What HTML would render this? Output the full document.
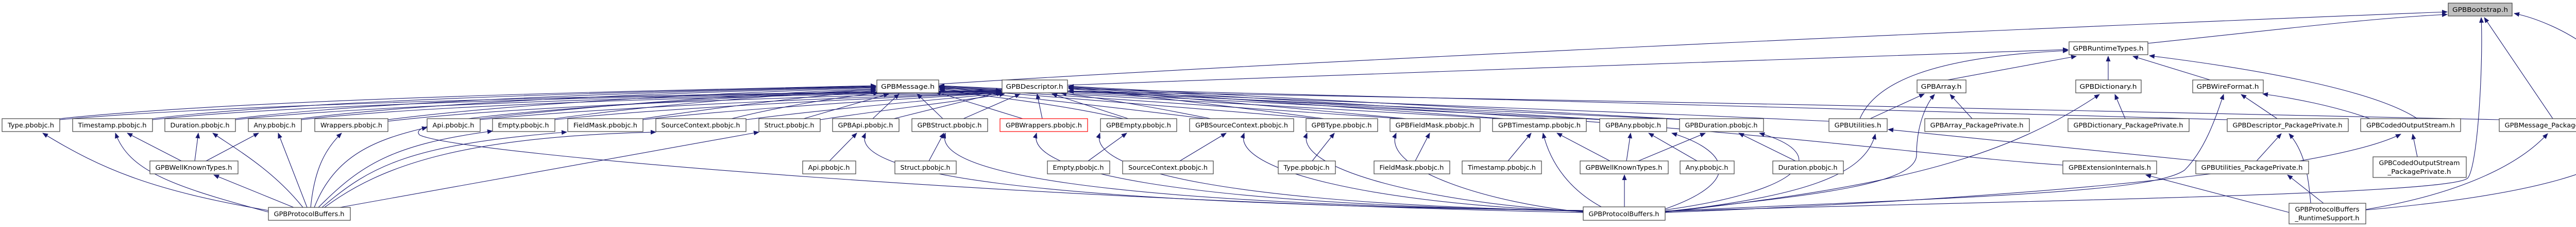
<!DOCTYPE html>
<html><head><meta charset="utf-8"><style>
html,body{margin:0;padding:0;background:#fff;}
svg{display:block;}
text{font-family:"DejaVu Sans","Liberation Sans",sans-serif;font-size:12px;fill:#000;}
.n{fill:#fff;stroke:#404040;stroke-width:1.2;}
.e{fill:none;stroke:#191970;stroke-width:1.1;}
</style></head><body>
<svg width="5118" height="440" viewBox="0 0 5118 440" xmlns="http://www.w3.org/2000/svg">
<defs><marker id="a" markerWidth="11" markerHeight="9" refX="10" refY="4.5" orient="auto" markerUnits="userSpaceOnUse"><path d="M0,0L11,4.5L0,9z" fill="#191970"/></marker></defs>
<g class="e" marker-end="url(#a)">
<!-- Bootstrap -->
<path d="M1822,163 C2500,120 3800,60 4750,23"/>
<path d="M4169,84 C4400,60 4600,35 4750,28"/>
<path d="M4955,230 L4822,34"/>
<path d="M4592,407 C4900,380 5112,330 5112,250 C5112,110 4950,40 4880,26"/>
<path d="M3232,410 C3800,390 4760,380 4790,345 C4810,320 4820,120 4816,34"/>
<!-- RuntimeTypes -->
<path d="M2072,165 C2600,145 3600,110 4014,96"/>
<path d="M3610,230 C3640,160 3750,110 4014,98"/>
<path d="M3780,155 L4030,109"/>
<path d="M4092,155 L4092,109"/>
<path d="M4290,155 L4140,109"/>
<path d="M4692,230 C4600,170 4350,130 4172,108"/>
<!-- Array -->
<path d="M3630,230 L3735,182"/>
<path d="M3828,230 L3785,183"/>
<path d="M3232,410 C3500,380 3720,360 3720,300 C3720,240 3740,200 3755,183"/>
<!-- Dictionary -->
<path d="M4125,230 L4105,183"/>
<path d="M3232,411 C3700,360 3900,300 4075,183"/>
<!-- WireFormat -->
<path d="M4420,230 L4350,183"/>
<path d="M4600,230 C4530,205 4450,190 4392,182"/>
<path d="M3232,409 C3900,380 4180,370 4240,330 C4280,290 4300,230 4316,183"/>
<!-- Descriptor_PP -->
<path d="M4380,312 L4428,259"/>
<path d="M4485,394 C4480,330 4470,290 4443,259"/>
<path d="M4323,232 C3800,215 2800,190 2074,172"/>
<!-- CodedOutputStream -->
<path d="M4692,304 L4683,260"/>
<path d="M3232,412 C3800,390 4500,340 4660,260"/>
<!-- Message_PP -->
<path d="M4592,406 C4750,380 4880,330 4945,259"/>
<path d="M4851,232 C4000,210 2500,185 1824,172"/>
<!-- Utilities -->
<path d="M4267,312 L3665,251"/>
<path d="M3232,411 C3500,380 3620,340 3640,260"/>
<path d="M3550,235 C3000,210 2400,185 2074,176"/>
<!-- ExtensionInternals -->
<path d="M4444,412 L4165,339"/>
<path d="M4004,320 C3700,300 3300,230 2074,177"/>
<path d="M4510,394 L4440,339"/>
<!-- right GPB pbobjc to Message / Descriptor -->
<path d="M1694,230 L1745,182"/>
<path d="M1735,230 L1945,178"/>
<path d="M1830,230 L1780,182"/>
<path d="M1870,230 L1980,182"/>
<path d="M1985,230 L1816,178"/>
<path d="M2023,230 L2013,182"/>
<path d="M2180,230 C2050,200 1900,185 1823,174"/>
<path d="M2190,230 L2042,182"/>
<path d="M2340,230 C2100,200 1900,180 1823,172"/>
<path d="M2350,230 C2200,200 2100,185 2060,181"/>
<path d="M2560,230 C2200,200 1950,180 1823,170"/>
<path d="M2570,230 C2300,195 2150,178 2074,172"/>
<path d="M2720,230 C2300,200 1950,178 1823,169"/>
<path d="M2730,230 C2350,195 2150,176 2074,170"/>
<path d="M2910,230 C2400,200 1950,176 1823,168"/>
<path d="M2920,230 C2450,195 2150,174 2074,169"/>
<path d="M3110,232 C2500,200 1950,174 1823,167"/>
<path d="M3120,232 C2500,196 2150,172 2074,168"/>
<path d="M3270,232 C2600,200 1950,172 1823,166"/>
<path d="M3280,232 C2600,196 2150,170 2074,167"/>
<!-- left pbobjc to Message / Descriptor -->
<path d="M116,230 C500,190 1300,175 1700,166"/>
<path d="M116,232 C520,195 1500,180 1943,175"/>
<path d="M296,230 C600,192 1300,176 1700,167"/>
<path d="M296,232 C620,196 1500,181 1943,176"/>
<path d="M457,230 C750,194 1300,177 1700,168"/>
<path d="M457,232 C770,198 1500,182 1943,177"/>
<path d="M585,230 C850,196 1350,178 1700,169"/>
<path d="M585,232 C870,199 1550,183 1943,178"/>
<path d="M753,232 C1000,200 1400,180 1700,170"/>
<path d="M753,235 C1020,203 1600,186 1943,179"/>
<path d="M932,230 C1150,205 1450,182 1700,172"/>
<path d="M932,232 C1170,208 1650,188 1943,180"/>
<path d="M1077,230 C1250,206 1500,184 1700,173"/>
<path d="M1077,232 C1270,210 1700,190 1943,180"/>
<path d="M1248,230 C1400,208 1550,188 1700,176"/>
<path d="M1248,232 C1420,212 1750,192 1943,180"/>
<path d="M1420,230 C1500,210 1600,192 1705,180"/>
<path d="M1448,232 C1600,212 1800,195 1945,181"/>
<path d="M1560,230 L1725,182"/>
<path d="M1592,232 C1700,215 1850,198 1950,182"/>
<path d="M3073,412 C2000,390 900,300 815,262 C790,240 900,215 1700,175"/>
<!-- PB1 edges -->
<path d="M521,408 C300,370 200,330 83,258"/>
<path d="M521,411 C330,360 250,330 224,258"/>
<path d="M352,312 L247,258"/>
<path d="M378,312 L385,258"/>
<path d="M400,312 L502,258"/>
<path d="M570,402 L415,339"/>
<path d="M588,402 C530,330 460,290 413,258"/>
<path d="M596,402 L540,258"/>
<path d="M603,402 C610,330 630,290 663,258"/>
<path d="M610,402 C650,300 730,270 829,247"/>
<path d="M618,402 C700,320 760,280 956,254"/>
<path d="M625,402 C720,320 800,280 1100,256"/>
<path d="M630,402 C740,320 900,265 1273,256"/>
<path d="M660,402 L1473,256"/>
<!-- PB2 edges -->
<path d="M3073,408 C1930,395 1650,330 1680,258"/>
<path d="M3073,408 C2085,395 1810,330 1835,258"/>
<path d="M3073,409 C2260,395 1990,330 2012,258"/>
<path d="M3073,409 C2385,395 2110,330 2135,258"/>
<path d="M3073,410 C2665,395 2390,330 2415,258"/>
<path d="M3073,410 C2787,395 2510,330 2537,258"/>
<path d="M3073,411 C2900,395 2680,330 2710,258"/>
<path d="M3110,402 C3050,370 3010,320 2995,258"/>
<path d="M3232,405 C3390,350 3350,290 3245,258"/>
<path d="M3232,407 C3500,370 3560,300 3415,258"/>
<path d="M3153,401 L3153,339"/>
<!-- row5 to row4 -->
<path d="M1610,312 L1663,258"/>
<path d="M1803,312 L1832,258"/>
<path d="M2112,312 L2187,258"/>
<path d="M2290,312 L2380,258"/>
<path d="M2547,312 L2590,258"/>
<path d="M2747,312 L2775,258"/>
<path d="M2927,312 L2972,258"/>
<path d="M3125,312 L3022,258"/>
<path d="M3157,312 L3165,258"/>
<path d="M3294,312 L3200,258"/>
<path d="M3180,312 L3310,258"/>
<path d="M3485,312 L3375,258"/>
</g>
<g>
<rect x="4752" y="6" width="124" height="25" fill="#bfbfbf" stroke="#404040" stroke-width="1.2"/>
<text x="4814" y="23" text-anchor="middle" textLength="108" lengthAdjust="spacingAndGlyphs">GPBBootstrap.h</text>
</g>
<g>
<rect class="n" x="4016" y="81" width="153" height="25"/><text x="4092" y="98" text-anchor="middle" textLength="137" lengthAdjust="spacingAndGlyphs">GPBRuntimeTypes.h</text>
<rect class="n" x="1702" y="155" width="120" height="25"/><text x="1762" y="172" text-anchor="middle" textLength="104" lengthAdjust="spacingAndGlyphs">GPBMessage.h</text>
<rect class="n" x="1945" y="155" width="127" height="25"/><text x="2008" y="172" text-anchor="middle" textLength="111" lengthAdjust="spacingAndGlyphs">GPBDescriptor.h</text>
<rect class="n" x="3721" y="155" width="95" height="25"/><text x="3768" y="172" text-anchor="middle" textLength="79" lengthAdjust="spacingAndGlyphs">GPBArray.h</text>
<rect class="n" x="4029" y="155" width="127" height="25"/><text x="4092" y="172" text-anchor="middle" textLength="111" lengthAdjust="spacingAndGlyphs">GPBDictionary.h</text>
<rect class="n" x="4256" y="155" width="137" height="25"/><text x="4324" y="172" text-anchor="middle" textLength="121" lengthAdjust="spacingAndGlyphs">GPBWireFormat.h</text>

<rect class="n" x="4" y="230" width="112" height="25"/><text x="60" y="247" text-anchor="middle" textLength="90" lengthAdjust="spacingAndGlyphs">Type.pbobjc.h</text>
<rect class="n" x="141" y="230" width="155" height="25"/><text x="218" y="247" text-anchor="middle" textLength="133" lengthAdjust="spacingAndGlyphs">Timestamp.pbobjc.h</text>
<rect class="n" x="320" y="230" width="137" height="25"/><text x="388" y="247" text-anchor="middle" textLength="115" lengthAdjust="spacingAndGlyphs">Duration.pbobjc.h</text>
<rect class="n" x="482" y="230" width="103" height="25"/><text x="533" y="247" text-anchor="middle" textLength="81" lengthAdjust="spacingAndGlyphs">Any.pbobjc.h</text>
<rect class="n" x="611" y="230" width="142" height="25"/><text x="682" y="247" text-anchor="middle" textLength="120" lengthAdjust="spacingAndGlyphs">Wrappers.pbobjc.h</text>
<rect class="n" x="829" y="230" width="103" height="25"/><text x="880" y="247" text-anchor="middle" textLength="81" lengthAdjust="spacingAndGlyphs">Api.pbobjc.h</text>
<rect class="n" x="956" y="230" width="121" height="25"/><text x="1016" y="247" text-anchor="middle" textLength="99" lengthAdjust="spacingAndGlyphs">Empty.pbobjc.h</text>
<rect class="n" x="1102" y="230" width="146" height="25"/><text x="1175" y="247" text-anchor="middle" textLength="124" lengthAdjust="spacingAndGlyphs">FieldMask.pbobjc.h</text>
<rect class="n" x="1273" y="230" width="175" height="25"/><text x="1360" y="247" text-anchor="middle" textLength="153" lengthAdjust="spacingAndGlyphs">SourceContext.pbobjc.h</text>
<rect class="n" x="1473" y="230" width="119" height="25"/><text x="1532" y="247" text-anchor="middle" textLength="97" lengthAdjust="spacingAndGlyphs">Struct.pbobjc.h</text>
<rect class="n" x="1616" y="230" width="129" height="25"/><text x="1680" y="247" text-anchor="middle" textLength="107" lengthAdjust="spacingAndGlyphs">GPBApi.pbobjc.h</text>
<rect class="n" x="1770" y="230" width="147" height="25"/><text x="1843" y="247" text-anchor="middle" textLength="125" lengthAdjust="spacingAndGlyphs">GPBStruct.pbobjc.h</text>
<rect x="1941" y="230" width="170" height="25" fill="#fff" stroke="#ff0000" stroke-width="1.2"/><text x="2026" y="247" text-anchor="middle" textLength="148" lengthAdjust="spacingAndGlyphs">GPBWrappers.pbobjc.h</text>
<rect class="n" x="2136" y="230" width="148" height="25"/><text x="2210" y="247" text-anchor="middle" textLength="126" lengthAdjust="spacingAndGlyphs">GPBEmpty.pbobjc.h</text>
<rect class="n" x="2309" y="230" width="202" height="25"/><text x="2410" y="247" text-anchor="middle" textLength="180" lengthAdjust="spacingAndGlyphs">GPBSourceContext.pbobjc.h</text>
<rect class="n" x="2535" y="230" width="139" height="25"/><text x="2604" y="247" text-anchor="middle" textLength="117" lengthAdjust="spacingAndGlyphs">GPBType.pbobjc.h</text>
<rect class="n" x="2698" y="230" width="175" height="25"/><text x="2785" y="247" text-anchor="middle" textLength="153" lengthAdjust="spacingAndGlyphs">GPBFieldMask.pbobjc.h</text>
<rect class="n" x="2897" y="230" width="182" height="25"/><text x="2988" y="247" text-anchor="middle" textLength="160" lengthAdjust="spacingAndGlyphs">GPBTimestamp.pbobjc.h</text>
<rect class="n" x="3105" y="230" width="130" height="25"/><text x="3170" y="247" text-anchor="middle" textLength="108" lengthAdjust="spacingAndGlyphs">GPBAny.pbobjc.h</text>
<rect class="n" x="3260" y="230" width="163" height="25"/><text x="3341" y="247" text-anchor="middle" textLength="141" lengthAdjust="spacingAndGlyphs">GPBDuration.pbobjc.h</text>
<rect class="n" x="3550" y="230" width="113" height="25"/><text x="3606" y="247" text-anchor="middle" textLength="91" lengthAdjust="spacingAndGlyphs">GPBUtilities.h</text>
<rect class="n" x="3736" y="230" width="203" height="25"/><text x="3837" y="247" text-anchor="middle" textLength="181" lengthAdjust="spacingAndGlyphs">GPBArray_PackagePrivate.h</text>
<rect class="n" x="4014" y="230" width="235" height="25"/><text x="4131" y="247" text-anchor="middle" textLength="213" lengthAdjust="spacingAndGlyphs">GPBDictionary_PackagePrivate.h</text>
<rect class="n" x="4323" y="230" width="235" height="25"/><text x="4440" y="247" text-anchor="middle" textLength="213" lengthAdjust="spacingAndGlyphs">GPBDescriptor_PackagePrivate.h</text>
<rect class="n" x="4582" y="230" width="194" height="25"/><text x="4679" y="247" text-anchor="middle" textLength="172" lengthAdjust="spacingAndGlyphs">GPBCodedOutputStream.h</text>
<rect class="n" x="4851" y="230" width="225" height="25"/><text x="4963" y="247" text-anchor="middle" textLength="203" lengthAdjust="spacingAndGlyphs">GPBMessage_PackagePrivate.h</text>

<rect class="n" x="291" y="312" width="171" height="25"/><text x="376" y="329" text-anchor="middle" textLength="149" lengthAdjust="spacingAndGlyphs">GPBWellKnownTypes.h</text>
<rect class="n" x="1558" y="312" width="103" height="25"/><text x="1609" y="329" text-anchor="middle" textLength="81" lengthAdjust="spacingAndGlyphs">Api.pbobjc.h</text>
<rect class="n" x="1737" y="312" width="119" height="25"/><text x="1796" y="329" text-anchor="middle" textLength="97" lengthAdjust="spacingAndGlyphs">Struct.pbobjc.h</text>
<rect class="n" x="2033" y="312" width="121" height="25"/><text x="2093" y="329" text-anchor="middle" textLength="99" lengthAdjust="spacingAndGlyphs">Empty.pbobjc.h</text>
<rect class="n" x="2179" y="312" width="176" height="25"/><text x="2267" y="329" text-anchor="middle" textLength="154" lengthAdjust="spacingAndGlyphs">SourceContext.pbobjc.h</text>
<rect class="n" x="2481" y="312" width="111" height="25"/><text x="2536" y="329" text-anchor="middle" textLength="89" lengthAdjust="spacingAndGlyphs">Type.pbobjc.h</text>
<rect class="n" x="2667" y="312" width="147" height="25"/><text x="2740" y="329" text-anchor="middle" textLength="125" lengthAdjust="spacingAndGlyphs">FieldMask.pbobjc.h</text>
<rect class="n" x="2838" y="312" width="154" height="25"/><text x="2915" y="329" text-anchor="middle" textLength="132" lengthAdjust="spacingAndGlyphs">Timestamp.pbobjc.h</text>
<rect class="n" x="3067" y="312" width="171" height="25"/><text x="3152" y="329" text-anchor="middle" textLength="149" lengthAdjust="spacingAndGlyphs">GPBWellKnownTypes.h</text>
<rect class="n" x="3261" y="312" width="105" height="25"/><text x="3313" y="329" text-anchor="middle" textLength="83" lengthAdjust="spacingAndGlyphs">Any.pbobjc.h</text>
<rect class="n" x="3441" y="312" width="137" height="25"/><text x="3509" y="329" text-anchor="middle" textLength="115" lengthAdjust="spacingAndGlyphs">Duration.pbobjc.h</text>
<rect class="n" x="4004" y="312" width="182" height="25"/><text x="4095" y="329" text-anchor="middle" textLength="160" lengthAdjust="spacingAndGlyphs">GPBExtensionInternals.h</text>
<rect class="n" x="4262" y="312" width="219" height="25"/><text x="4371" y="329" text-anchor="middle" textLength="197" lengthAdjust="spacingAndGlyphs">GPBUtilities_PackagePrivate.h</text>
<rect class="n" x="4606" y="304" width="181" height="40"/><text x="4696" y="320" text-anchor="middle" textLength="157" lengthAdjust="spacingAndGlyphs">GPBCodedOutputStream</text><text x="4696" y="337" text-anchor="middle" textLength="123" lengthAdjust="spacingAndGlyphs">_PackagePrivate.h</text>

<rect class="n" x="521" y="402" width="159" height="25"/><text x="600" y="419" text-anchor="middle" textLength="137" lengthAdjust="spacingAndGlyphs">GPBProtocolBuffers.h</text>
<rect class="n" x="3073" y="401" width="159" height="26"/><text x="3152" y="419" text-anchor="middle" textLength="137" lengthAdjust="spacingAndGlyphs">GPBProtocolBuffers.h</text>
<rect class="n" x="4443" y="394" width="149" height="40"/><text x="4517" y="410" text-anchor="middle" textLength="125" lengthAdjust="spacingAndGlyphs">GPBProtocolBuffers</text><text x="4517" y="427" text-anchor="middle" textLength="125" lengthAdjust="spacingAndGlyphs">_RuntimeSupport.h</text>
</g>
</svg>
</body></html>
